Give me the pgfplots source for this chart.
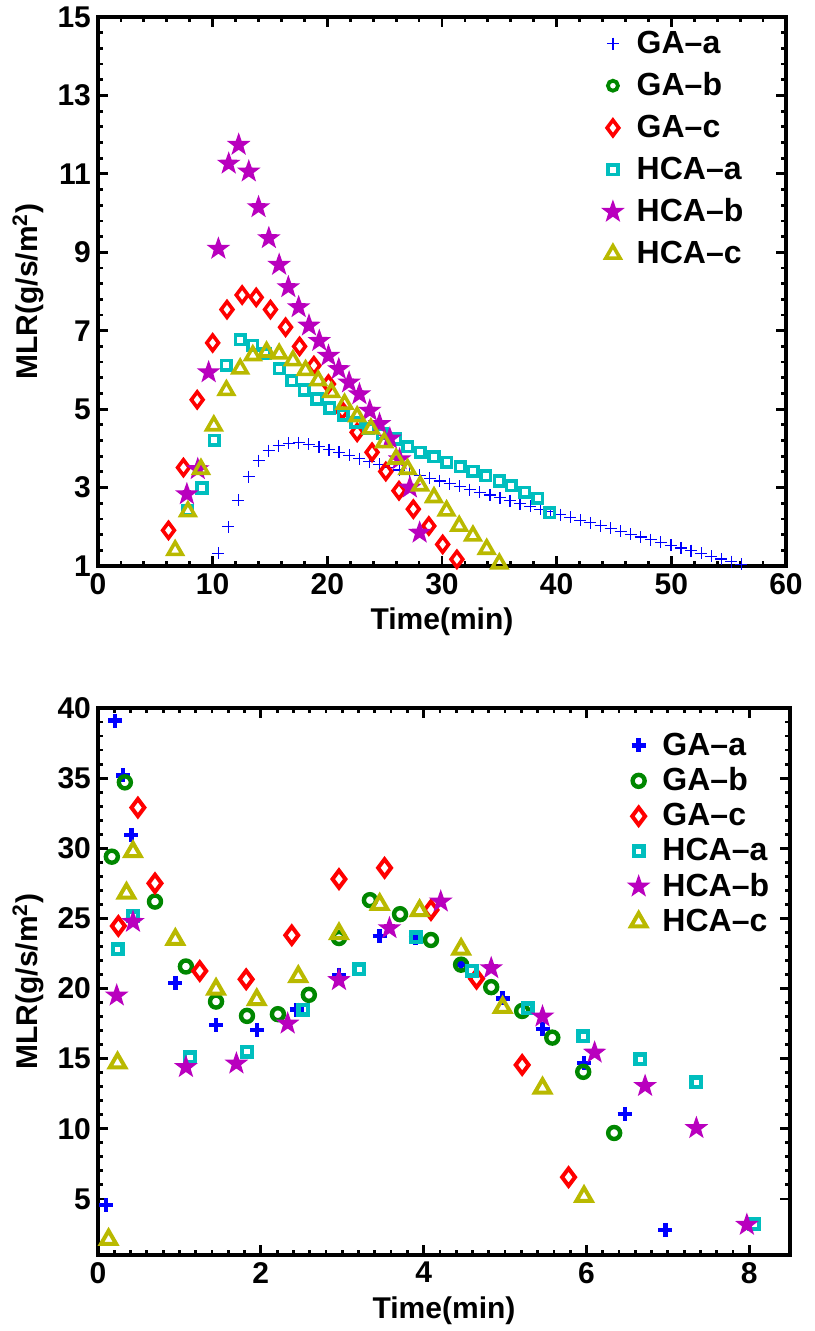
\documentclass[border=0pt]{standalone}
\usepackage{fontspec}
\setmainfont{Liberation Sans}
\usepackage{pgfplots}
\pgfplotsset{compat=1.18}
\definecolor{cblue}{RGB}{0,0,255}
\definecolor{cgreen}{RGB}{0,135,0}
\definecolor{cred}{RGB}{255,0,0}
\definecolor{ccyan}{RGB}{0,190,190}
\definecolor{cmag}{RGB}{185,0,190}
\definecolor{colive}{RGB}{185,185,0}
\pgfdeclareplotmark{fstar}{%
 \pgfpathmoveto{\pgfpointpolar{90}{\pgfplotmarksize}}%
 \pgfpathlineto{\pgfpointpolar{126}{0.4\pgfplotmarksize}}%
 \pgfpathlineto{\pgfpointpolar{162}{\pgfplotmarksize}}%
 \pgfpathlineto{\pgfpointpolar{198}{0.4\pgfplotmarksize}}%
 \pgfpathlineto{\pgfpointpolar{234}{\pgfplotmarksize}}%
 \pgfpathlineto{\pgfpointpolar{270}{0.4\pgfplotmarksize}}%
 \pgfpathlineto{\pgfpointpolar{306}{\pgfplotmarksize}}%
 \pgfpathlineto{\pgfpointpolar{342}{0.4\pgfplotmarksize}}%
 \pgfpathlineto{\pgfpointpolar{18}{\pgfplotmarksize}}%
 \pgfpathlineto{\pgfpointpolar{54}{0.4\pgfplotmarksize}}%
 \pgfpathclose
 \pgfusepathqfill}
\newcommand{\lblfont}{\fontsize{15}{17}\selectfont\bfseries}
\newcommand{\legfont}{\fontsize{16}{18}\selectfont\bfseries}
\pgfplotsset{
 mlr/.style={
  scale only axis,
  axis line style={line width=1.8pt},
  every tick/.style={black, line width=1.4pt},
  major tick length=5pt, minor tick length=2.5pt,
  tick label style={font=\lblfont},
  label style={font=\lblfont},
  /pgf/number format/assume math mode=true,
  xlabel={Time(min)},
  ylabel={MLR(g/s/m\textsuperscript{2})},
  legend style={draw=none, fill=none, font=\legfont, anchor=north west,
    /tikz/every odd column/.append style={column sep=4pt}},
  legend cell align=left,
  clip=false,
 },
 sGAa/.style={only marks, mark=+, color=cblue, mark size=3pt, line width=0.6pt},
 sGAab/.style={only marks, mark=+, color=cblue, mark size=3.5pt, line width=2.2pt},
 sGAb/.style={only marks, mark=o, color=cgreen, mark size=3pt, line width=2.2pt},
 sGAbt/.style={only marks, mark=o, color=cgreen, mark size=2.5pt, line width=1.9pt},
 sGAc/.style={only marks, mark=diamond, color=cred, mark size=3.9pt, line width=1.8pt},
 sGAcb/.style={only marks, mark=diamond, color=cred, mark size=4.3pt, line width=2pt},
 sHCAa/.style={only marks, mark=square, color=ccyan, mark size=2.4pt, line width=1.8pt},
 sHCAab/.style={only marks, mark=square, color=ccyan, mark size=2.4pt, line width=2.2pt},
 sHCAb/.style={only marks, mark=fstar, color=cmag, mark size=6.2pt},
 sHCAc/.style={only marks, mark=triangle, color=colive, mark size=4.1pt, line width=1.8pt},
 sHCAcb/.style={only marks, mark=triangle, color=colive, mark size=4.4pt, line width=2pt},
}
\begin{document}
\begin{tikzpicture}
\useasboundingbox (-49pt,8.5pt) rectangle (358pt,-657pt);
% ---------------- top panel ----------------
\begin{axis}[mlr,
  at={(0pt,0pt)}, anchor=north west,
  width=344pt, height=274.5pt,
  xmin=0, xmax=60, ymin=1, ymax=15,
  xtick={0,10,...,60}, minor x tick num=4,
  ytick={1,3,...,15}, minor y tick num=4,
  legend style={at={(rel axis cs:0.722,0.99)}, row sep=4.2pt},
]
\addplot[sGAa] coordinates {
(10.50,1.32) (11.38,2.00) (12.25,2.68) (13.13,3.28) (14.01,3.69) (14.89,3.94)
(15.76,4.07) (16.64,4.13) (17.52,4.14) (18.39,4.10) (19.27,4.04) (20.15,3.97)
(21.02,3.90) (21.90,3.82) (22.78,3.74) (23.66,3.66) (24.53,3.59) (25.41,3.52)
(26.29,3.45) (27.16,3.38) (28.04,3.31) (28.92,3.24) (29.79,3.17) (30.67,3.10)
(31.55,3.03) (32.43,2.95) (33.30,2.88) (34.18,2.81) (35.06,2.74) (35.93,2.67)
(36.81,2.59) (37.69,2.52) (38.56,2.45) (39.44,2.38) (40.32,2.31) (41.20,2.24)
(42.07,2.17) (42.95,2.10) (43.83,2.03) (44.70,1.96) (45.58,1.88) (46.46,1.81)
(47.33,1.74) (48.21,1.67) (49.09,1.60) (49.97,1.53) (50.84,1.46) (51.72,1.39)
(52.60,1.32) (53.47,1.25) (54.35,1.18) (55.23,1.11) (56.10,1.04)
};
\addlegendentry{GA--a}
\addlegendimage{sGAbt}
\addlegendentry{GA--b}
\addplot[sGAc] coordinates {
(6.15,1.91) (7.45,3.51) (8.65,5.24) (10.00,6.69) (11.25,7.54) (12.57,7.91)
(13.80,7.85) (15.04,7.54) (16.36,7.09) (17.58,6.60) (18.83,6.11) (20.10,5.64)
(21.30,4.96) (22.60,4.41) (23.90,3.90) (25.10,3.41) (26.25,2.92) (27.50,2.45)
(28.85,2.02) (30.06,1.55) (31.30,1.17)
};
\addlegendentry{GA--c}
\addplot[sHCAa] coordinates {
(7.84,2.42) (9.07,2.99) (10.15,4.21) (11.20,6.12) (12.40,6.77) (13.50,6.63)
(14.60,6.41) (15.80,6.03) (16.90,5.73) (18.00,5.49) (19.10,5.26) (20.20,5.03)
(21.40,4.84) (22.50,4.66) (23.60,4.50) (24.80,4.37) (25.97,4.24) (27.00,4.04)
(28.10,3.90) (29.30,3.79) (30.40,3.64) (31.60,3.53) (32.70,3.41) (33.80,3.30)
(35.00,3.17) (36.05,3.05) (37.20,2.88) (38.36,2.73) (39.40,2.36)
};
\addlegendentry{HCA--a}
\addplot[sHCAb] coordinates {
(7.75,2.83) (8.70,3.47) (9.65,5.94) (10.50,9.09) (11.40,11.26) (12.27,11.74)
(13.15,11.06) (14.00,10.15) (14.90,9.36) (15.80,8.68) (16.60,8.11) (17.50,7.60)
(18.40,7.13) (19.30,6.74) (20.10,6.36) (21.00,6.02) (21.90,5.68) (22.80,5.38)
(23.70,4.96) (24.55,4.62) (25.45,4.25) (26.30,3.72) (27.20,3.00) (28.05,1.85)
};
\addlegendentry{HCA--b}
\addplot[sHCAc] coordinates {
(6.73,1.40) (7.84,2.39) (8.98,3.47) (10.10,4.58) (11.20,5.48) (12.40,6.03)
(13.50,6.37) (14.70,6.46) (15.80,6.41) (17.00,6.24) (18.10,5.99) (19.20,5.73)
(20.35,5.43) (21.50,5.13) (22.60,4.81) (23.80,4.50) (24.96,4.15) (26.00,3.73)
(27.00,3.47) (28.10,3.05) (29.30,2.75) (30.40,2.41) (31.50,2.02) (32.70,1.77)
(33.90,1.43) (35.00,1.06)
};
\addlegendentry{HCA--c}
\end{axis}
% ---------------- bottom panel ----------------
\begin{axis}[mlr,
  at={(0pt,-345.5pt)}, anchor=north west,
  width=346pt, height=273.5pt,
  xmin=0, xmax=8.5, ymin=1, ymax=40,
  xtick={0,2,...,8}, minor x tick num=9,
  ytick={5,10,...,40}, minor y tick num=4,
  legend style={at={(rel axis cs:0.755,0.97)}, row sep=0.8pt},
]
\addplot[sGAab] coordinates {
(0.10,4.55) (0.21,39.1) (0.31,35.2) (0.41,30.95) (0.95,20.4) (1.45,17.4)
(1.95,17.05) (2.44,18.5) (2.96,20.97) (3.46,23.75) (3.90,23.6) (4.46,21.7)
(4.97,19.3) (5.46,17.1) (5.97,14.7) (6.47,11.06) (6.97,2.8)
};
\addlegendentry{GA--a}
\addplot[sGAb] coordinates {
(0.17,29.4) (0.33,34.7) (0.70,26.2) (1.08,21.57) (1.45,19.07) (1.83,18.05)
(2.21,18.17) (2.59,19.55) (2.96,23.6) (3.34,26.3) (3.71,25.3) (4.09,23.46)
(4.46,21.7) (4.83,20.1) (5.21,18.4) (5.58,16.5) (5.96,14.06) (6.34,9.7)
};
\addlegendentry{GA--b}
\addplot[sGAcb] coordinates {
(0.25,24.46) (0.49,32.9) (0.70,27.5) (1.25,21.25) (1.82,20.66) (2.38,23.8)
(2.96,27.8) (3.52,28.6) (4.09,25.6) (4.65,20.7) (5.21,14.55) (5.78,6.55)
};
\addlegendentry{GA--c}
\addplot[sHCAab] coordinates {
(0.24,22.8) (0.43,25.15) (1.13,15.1) (1.83,15.5) (2.52,18.5) (3.21,21.37)
(3.90,23.65) (4.59,21.27) (5.28,18.6) (5.96,16.6) (6.66,14.95) (7.35,13.3)
(8.06,3.2)
};
\addlegendentry{HCA--a}
\addplot[sHCAb] coordinates {
(0.23,19.5) (0.43,24.75) (1.08,14.4) (1.70,14.65) (2.33,17.5) (2.96,20.6)
(3.58,24.3) (4.21,26.2) (4.83,21.45) (5.46,18.0) (6.10,15.43) (6.72,13.05)
(7.35,10.05) (7.97,3.15)
};
\addlegendentry{HCA--b}
\addplot[sHCAcb] coordinates {
(0.13,2.1) (0.24,14.7) (0.35,26.8) (0.43,29.75) (0.95,23.5) (1.45,19.95)
(1.95,19.2) (2.46,20.85) (2.96,23.9) (3.46,26.0) (3.95,25.55) (4.46,22.8)
(4.97,18.65) (5.46,12.9) (5.97,5.17)
};
\addlegendentry{HCA--c}
\end{axis}
\end{tikzpicture}
\end{document}
